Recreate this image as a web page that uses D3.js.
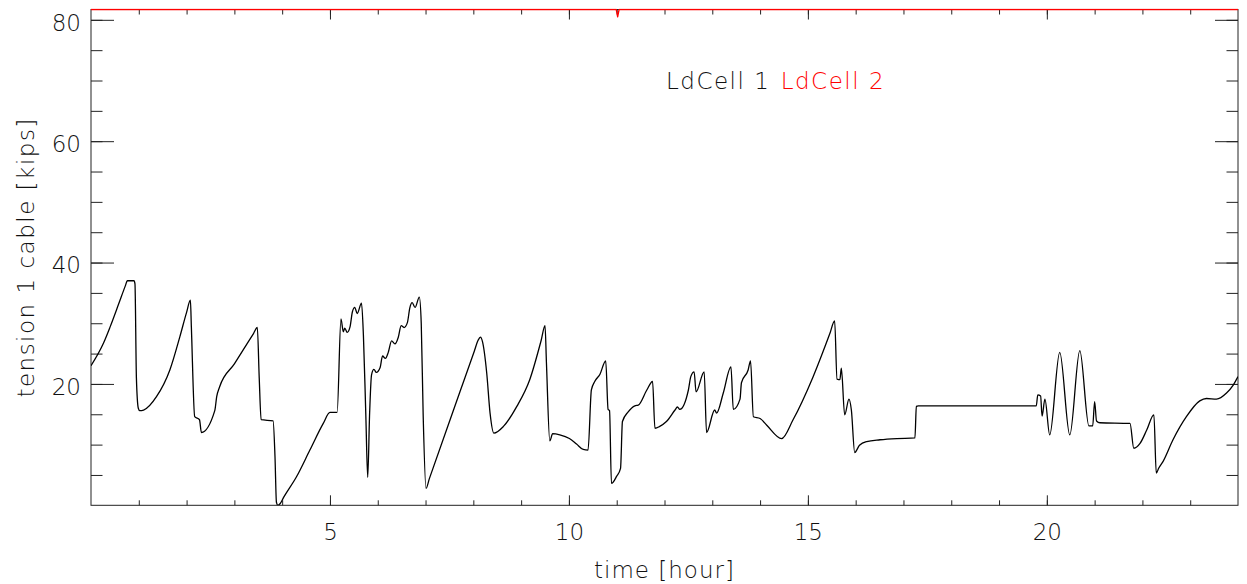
<!DOCTYPE html>
<html>
<head>
<meta charset="utf-8">
<script src="https://cdn.jsdelivr.net/npm/d3@7/dist/d3.min.js"></script>
<style>
  html, body { margin: 0; padding: 0; background: #fff; }
  svg { display: block; }
  text { font-family: "DejaVu Sans", "Liberation Sans", sans-serif; font-weight: 300; }
</style>
</head>
<body>
<svg id="chart" width="1247" height="584"></svg>
<script>
// ---- data ----
const seriesNames = ["LdCell 1", "LdCell 2"];
const seriesColors = ["#000000", "#ff0000"];

const ld1Time = [
  0.00, 0.26, 0.40, 0.58, 0.72, 0.76, 0.90, 0.92, 0.95, 0.99, 1.02,
  1.10, 1.37, 1.65, 1.86, 2.00, 2.08, 2.10, 2.17, 2.27, 2.31, 2.59,
  2.63, 2.69, 3.00, 3.40, 3.48, 3.52, 3.56, 3.81, 3.85, 3.88, 3.91, 3.96,
  4.03, 4.30, 4.58, 4.86, 5.00, 5.15, 5.23, 5.28, 5.31, 5.36, 5.42,
  5.47, 5.52, 5.57, 5.66, 5.70, 5.75, 5.79, 5.83, 5.87, 5.92,
  5.97, 6.05, 6.10, 6.16, 6.22, 6.29, 6.36, 6.43, 6.49, 6.55,
  6.62, 6.67, 6.72, 6.78, 6.87, 6.91, 6.95, 7.01, 7.08, 7.72, 8.02, 8.10,
  8.15, 8.19, 8.28, 8.35, 8.43, 8.63, 8.91, 9.18, 9.42, 9.50, 9.53,
  9.60, 9.66, 9.81, 10.01, 10.16, 10.30, 10.40, 10.47, 10.54, 10.65,
  10.77, 10.82, 10.85, 10.89, 11.00, 11.08, 11.12, 11.24, 11.38, 11.45,
  11.63, 11.75, 11.80, 11.90, 12.04, 12.22, 12.27, 12.32, 12.50, 12.55,
  12.62, 12.66, 12.83, 12.88, 13.05, 13.09, 13.23, 13.39, 13.44, 13.58,
  13.61, 13.75, 13.80, 13.86, 14.00, 14.14, 14.45, 14.69, 15.11, 15.46, 15.56,
  15.61, 15.67, 15.70, 15.77, 15.86, 15.91, 15.98, 16.08, 16.23, 16.51,
  16.86, 17.24, 17.27, 17.31, 19.78, 19.81, 19.87, 19.90, 19.96, 20.06,
  20.27, 20.48, 20.69, 20.88, 20.96, 21.00, 21.04, 21.11, 21.74, 21.82,
  21.95, 22.09, 22.24, 22.29, 22.34, 22.43, 22.64, 22.92, 23.20, 23.34, 23.55,
  23.76, 23.90, 24.00
];
const ld1Value = [
  23.0, 26.7, 29.4, 33.2, 36.2, 37.0, 37.0, 36.5, 21.0, 16.0, 15.6,
  15.7, 17.9, 22.3, 27.8, 31.8, 33.8, 29.4, 14.6, 14.1, 12.0, 15.6,
  17.9, 19.5, 23.3, 28.3, 29.3, 21.0, 14.1, 13.9, 8.0, 0.5, 0.0, 0.3,
  1.3, 4.7, 9.1, 13.5, 15.3, 15.3, 30.7, 28.6, 29.2, 28.5, 29.4,
  31.9, 32.6, 31.6, 33.3, 28.0, 15.0, 4.6, 15.2, 21.5, 22.4,
  21.9, 22.7, 24.6, 24.2, 25.2, 27.1, 26.6, 27.7, 29.6, 29.3,
  30.1, 32.5, 33.4, 32.6, 34.3, 30.0, 15.0, 2.8, 4.4, 18.7, 25.4, 27.2,
  27.7, 27.0, 21.8, 15.2, 11.9, 13.0, 16.3, 20.7, 27.2, 29.6, 23.4,
  10.6, 11.8, 11.6, 11.0, 10.1, 9.2, 9.1, 19.0, 20.4, 21.6,
  23.8, 15.8, 15.6, 3.6, 4.8, 6.1, 13.8, 15.4, 16.4, 16.5,
  19.0, 20.4, 12.7, 13.0, 13.8, 15.7, 16.2, 15.8, 19.0, 21.2,
  22.0, 18.7, 22.0, 12.0, 15.7, 15.2, 18.5, 22.8, 15.8, 17.5,
  20.2, 22.3, 23.8, 14.6, 14.3, 13.2, 11.0, 14.1, 21.2, 28.3, 30.4,
  20.8, 20.7, 22.6, 14.9, 17.5, 15.7, 8.7, 9.9, 10.5, 10.8,
  11.0, 11.1, 16.3, 16.4, 16.4, 18.2, 18.0, 14.7, 17.5, 11.6,
  25.2, 11.6, 25.5, 13.1, 13.1, 17.1, 13.9, 13.6, 13.5, 9.4,
  10.2, 12.4, 14.9, 5.3, 6.1, 7.2, 10.8, 14.6, 17.2, 17.6, 17.5,
  18.5, 19.8, 21.2
];

const ld2Time = [0.00, 10.99, 11.02, 11.05, 24.00];
const ld2Value = [81.7, 81.7, 80.5, 81.7, 81.7];

const xMajorTicks = [5, 10, 15, 20];
const xMinorTicks = d3.range(1, 24);
const yMajorTicks = [20, 40, 60, 80];
const yMinorTicks = d3.range(5, 81, 5);

const xDomain = [0, 24];
const yDomain = [0, 81.7];

const xTitle = "time [hour]";
const yTitle = "tension 1 cable [kips]";

// ---- layout ----
const L = 91, R = 1238, T = 9.5, B = 505.3;
const svg = d3.select("#chart");
const x = d3.scaleLinear().domain(xDomain).range([L, R]);
const y = d3.scaleLinear().domain(yDomain).range([B, T]);

const fontSize = 23;
const axisColor = "#222";

svg.append("defs").append("clipPath").attr("id", "plotclip")
  .append("rect").attr("x", L).attr("y", T - 1).attr("width", R - L).attr("height", B - T + 1);

function styleAxis(g) {
  g.select(".domain").remove();
  g.selectAll(".tick line").attr("stroke", axisColor).attr("stroke-width", 1);
  g.selectAll("text").attr("font-size", fontSize).attr("fill", "#111")
    .attr("font-family", '"DejaVu Sans", "Liberation Sans", sans-serif');
}

// bottom axis
svg.append("g").attr("transform", `translate(0,${B})`)
  .call(d3.axisBottom(x).tickValues(xMinorTicks).tickSizeInner(-5).tickSizeOuter(0).tickFormat(""))
  .call(styleAxis);
svg.append("g").attr("transform", `translate(0,${B})`)
  .call(d3.axisBottom(x).tickValues(xMajorTicks).tickSizeInner(-10).tickSizeOuter(0).tickPadding(18.4).tickFormat(d3.format("d")))
  .call(styleAxis);
// top axis
svg.append("g").attr("transform", `translate(0,${T})`)
  .call(d3.axisTop(x).tickValues(xMinorTicks).tickSizeInner(-5).tickSizeOuter(0).tickFormat(""))
  .call(styleAxis);
svg.append("g").attr("transform", `translate(0,${T})`)
  .call(d3.axisTop(x).tickValues(xMajorTicks).tickSizeInner(-10).tickSizeOuter(0).tickFormat(""))
  .call(styleAxis);
// left axis
svg.append("g").attr("transform", `translate(${L},0)`)
  .call(d3.axisLeft(y).tickValues(yMinorTicks).tickSizeInner(-11.5).tickSizeOuter(0).tickFormat(""))
  .call(styleAxis);
const yl = svg.append("g").attr("transform", `translate(${L},0)`)
  .call(d3.axisLeft(y).tickValues(yMajorTicks).tickSizeInner(-23).tickSizeOuter(0).tickPadding(10).tickFormat(d3.format("d")))
  .call(styleAxis);
yl.selectAll("text").attr("dy", "0.45em");
// right axis
svg.append("g").attr("transform", `translate(${R},0)`)
  .call(d3.axisRight(y).tickValues(yMinorTicks).tickSizeInner(-11.5).tickSizeOuter(0).tickFormat(""))
  .call(styleAxis);
svg.append("g").attr("transform", `translate(${R},0)`)
  .call(d3.axisRight(y).tickValues(yMajorTicks).tickSizeInner(-23).tickSizeOuter(0).tickFormat(""))
  .call(styleAxis);

// frame
svg.append("rect").attr("x", L).attr("y", T).attr("width", R - L).attr("height", B - T)
  .attr("fill", "none").attr("stroke", axisColor).attr("stroke-width", 1);

// lines
const line = d3.line().curve(d3.curveMonotoneX).x(d => x(d[0])).y(d => y(d[1]));
const ld1 = ld1Time.map((t, i) => [t, ld1Value[i]]);
const ld2 = ld2Time.map((t, i) => [t, ld2Value[i]]);
const plot = svg.append("g").attr("clip-path", "url(#plotclip)");
plot.append("path").datum(ld1).attr("d", line)
  .attr("fill", "none").attr("stroke", seriesColors[0]).attr("stroke-width", 1.3).attr("stroke-linejoin", "round");
plot.append("path").datum(ld2).attr("d", d3.line().x(d => x(d[0])).y(d => y(d[1])))
  .attr("fill", "none").attr("stroke", seriesColors[1]).attr("stroke-width", 1.3).attr("stroke-linejoin", "round");

// legend
const legendX = [666, 780.7];
seriesNames.forEach((name, i) => {
  svg.append("text").attr("x", legendX[i]).attr("y", 89.3)
    .attr("font-size", fontSize).attr("letter-spacing", 1.5)
    .attr("fill", seriesColors[i] === "#000000" ? "#111" : seriesColors[i])
    .text(name);
});

// axis titles
svg.append("text").attr("x", (L + R) / 2).attr("y", 578)
  .attr("text-anchor", "middle").attr("font-size", fontSize).attr("letter-spacing", 1)
  .attr("fill", "#111").text(xTitle);
svg.append("text").attr("transform", `translate(34,${(T + B) / 2}) rotate(-90)`)
  .attr("text-anchor", "middle").attr("font-size", fontSize).attr("letter-spacing", 1.5)
  .attr("fill", "#111").text(yTitle);
</script>
</body>
</html>
